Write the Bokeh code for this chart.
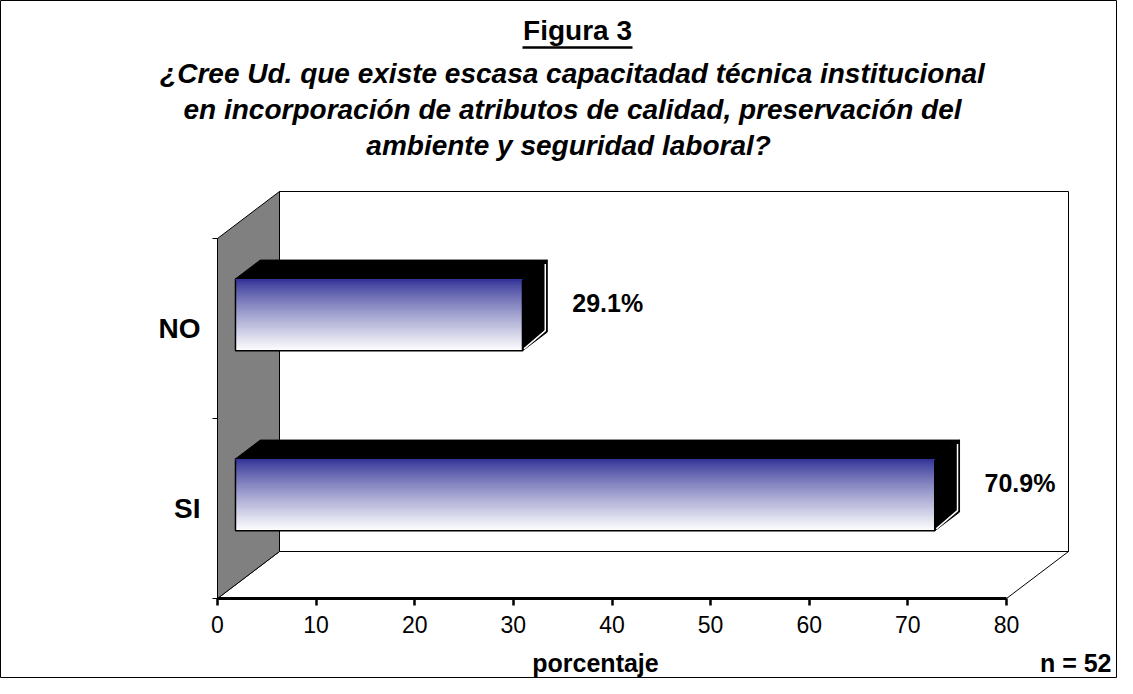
import numpy as np
from bokeh.plotting import figure
from bokeh.models import Range1d, FixedTicker
from bokeh.core.properties import value
from bokeh.embed import file_html
from bokeh.resources import INLINE

# ---------------- data ----------------
categories = ["SI", "NO"]
percentages = [70.9, 29.1]
value_labels = ["70.9%", "29.1%"]
x_ticks = [0, 10, 20, 30, 40, 50, 60, 70, 80]
figure_label = "Figura 3"
title_lines = [
    "¿Cree Ud. que existe escasa capacitadad técnica institucional",
    "en incorporación de atributos de calidad, preservación del",
    "ambiente y  seguridad laboral?",
]
x_axis_label = "porcentaje"
sample_note = "n = 52"

# ---------------- layout ----------------
W, H = 1117, 678
X0_REF, XMAX_REF = 217, 1006  # pixel of value 0 and of axis max on the front plane
Y0_REF = 598                 # pixel of the front floor line
BAND_PX = 180                # pixels per category band
XMAX = x_ticks[-1]
SX = (XMAX_REF - X0_REF) / XMAX
SY = BAND_PX
x_start = -X0_REF / SX
x_end = x_start + W / SX
y_start = -(H - Y0_REF) / SY
y_end = y_start + H / SY


def xd(px):  # pixel -> data x
    return x_start + px / SX


def yd(py):  # pixel (from top) -> data y
    return y_start + (H - py) / SY


DX = 62 / SX   # depth offset
DY = 47 / SY
F1 = 0.29      # bar front depth fraction
FD = 0.40      # bar thickness in depth
BAR_H = 0.40
NCAT = len(categories)
FONT = value("Liberation Sans")

p = figure(width=W, height=H, x_range=Range1d(x_start, x_end),
           y_range=Range1d(y_start, y_end), output_backend="svg",
           toolbar_location=None, min_border=0,
           background_fill_color="white", border_fill_color="white",
           outline_line_color="black", outline_line_width=1)
p.xgrid.visible = False
p.ygrid.visible = False

# back wall
p.quad(left=[DX], right=[XMAX + DX], bottom=[DY], top=[NCAT + DY],
       fill_color="white", line_color="black", line_width=1)
# floor
p.patch([0, XMAX, XMAX + DX, DX], [0, 0, DY, DY],
        fill_color="white", line_color="black", line_width=1)
# left wall
p.patch([0, DX, DX, 0], [0, DY, NCAT + DY, NCAT],
        fill_color="#808080", line_color="black", line_width=1)

# bars
N = 40
dark = np.array([48, 48, 150])
white = np.array([255, 255, 255])
ddx, ddy = FD * DX, FD * DY
for i, v in enumerate(percentages):
    c = i + 0.5
    xl = F1 * DX
    xr = v + F1 * DX
    yb = c - BAR_H / 2 + F1 * DY
    yt = c + BAR_H / 2 + F1 * DY
    # top face
    p.patch([xl, xr, xr + ddx, xl + ddx], [yt, yt, yt + ddy, yt + ddy],
            fill_color="black", line_color="black", line_width=1)
    # side face
    p.patch([xr, xr + ddx, xr + ddx, xr], [yb, yb + ddy, yt + ddy, yt],
            fill_color="black", line_color="black", line_width=1)
    p.line([xr + 1.5 / SX, xr + ddx - 2 / SX, xr + ddx - 2 / SX],
           [yb + 2 / SY, yb + ddy + 1.5 / SY, yt + ddy - 4 / SY],
           line_color="white", line_width=1.5)
    # gradient front face
    edges = np.linspace(yt, yb, N + 1)
    bottoms = edges[1:] - 1.5 / SY
    bottoms[-1] = yb
    t = (np.arange(N) + 0.5) / N
    t = t ** 0.85
    cols = ["#%02x%02x%02x" % tuple((dark * (1 - tt) + white * tt).astype(int)) for tt in t]
    p.quad(left=[xl] * N, right=[xr] * N, top=list(edges[:-1]), bottom=list(bottoms),
           fill_color=cols, fill_alpha=1.0, line_color=None)
    p.quad(left=[xl], right=[xr], top=[yt], bottom=[yb], fill_color=None,
           line_color="black", line_width=1.5)
    p.line([xl, xr], [yt - 1 / SY, yt - 1 / SY], line_color="#333399", line_width=1.5)

# value labels
p.text(x=[v + (F1 + FD) * DX + 25 / SX for v in percentages],
       y=[i + 0.5 + (F1 + FD / 2) * DY + 2 / SY for i in range(NCAT)],
       text=value_labels, text_font=FONT, text_font_size="25px",
       text_font_style="bold", text_align="left", text_baseline="middle",
       text_color="black")

# axes
xa = p.xaxis[0]
xa.fixed_location = 0
xa.bounds = (0, XMAX)
xa.ticker = FixedTicker(ticks=x_ticks)
xa.axis_line_width = 3
xa.axis_line_color = "black"
xa.major_tick_line_width = 2.5
xa.major_tick_line_color = "black"
xa.major_tick_out = 7
xa.major_tick_in = 0
xa.minor_tick_out = 0
xa.minor_tick_in = 0
xa.major_label_text_font = "Liberation Sans"
xa.major_label_text_font_size = "23px"
xa.major_label_text_color = "black"
xa.major_label_standoff = 10

ya = p.yaxis[0]
ya.fixed_location = 0
ya.bounds = (0, NCAT)
ya.ticker = FixedTicker(ticks=[i + 0.5 for i in range(NCAT)],
                        minor_ticks=list(range(NCAT + 1)))
ya.major_label_overrides = {i + 0.5: cat for i, cat in enumerate(categories)}
ya.major_tick_out = 0
ya.major_tick_in = 0
ya.minor_tick_out = 5
ya.minor_tick_in = 0
ya.minor_tick_line_color = "black"
ya.axis_line_color = "black"
ya.axis_line_width = 1
ya.major_label_text_font = "Liberation Sans"
ya.major_label_text_font_size = "28px"
ya.major_label_text_font_style = "bold"
ya.major_label_text_color = "black"
ya.major_label_standoff = 12

# titles
p.text(x=[xd(577)], y=[yd(30)], text=[figure_label], text_font=FONT,
       text_font_size="28px", text_font_style="bold", text_align="center",
       text_baseline="middle", text_color="black")
p.segment(x0=[xd(577 - 55)], x1=[xd(577 + 55)], y0=[yd(47)], y1=[yd(47)],
          line_color="black", line_width=2.5)
p.text(x=[xd(572)] * len(title_lines), y=[yd(73 + 36 * k) for k in range(len(title_lines))],
       text=title_lines, text_font=FONT, text_font_size="28px",
       text_font_style="bold italic", text_align="center",
       text_baseline="middle", text_color="black")

p.text(x=[xd(595)], y=[yd(662)], text=[x_axis_label], text_font=FONT,
       text_font_size="25px", text_font_style="bold", text_align="center",
       text_baseline="middle", text_color="black")
p.text(x=[xd(1111)], y=[yd(662)], text=[sample_note], text_font=FONT,
       text_font_size="25px", text_font_style="bold", text_align="right",
       text_baseline="middle", text_color="black")

open("out.html", "w").write(file_html(p, INLINE))
